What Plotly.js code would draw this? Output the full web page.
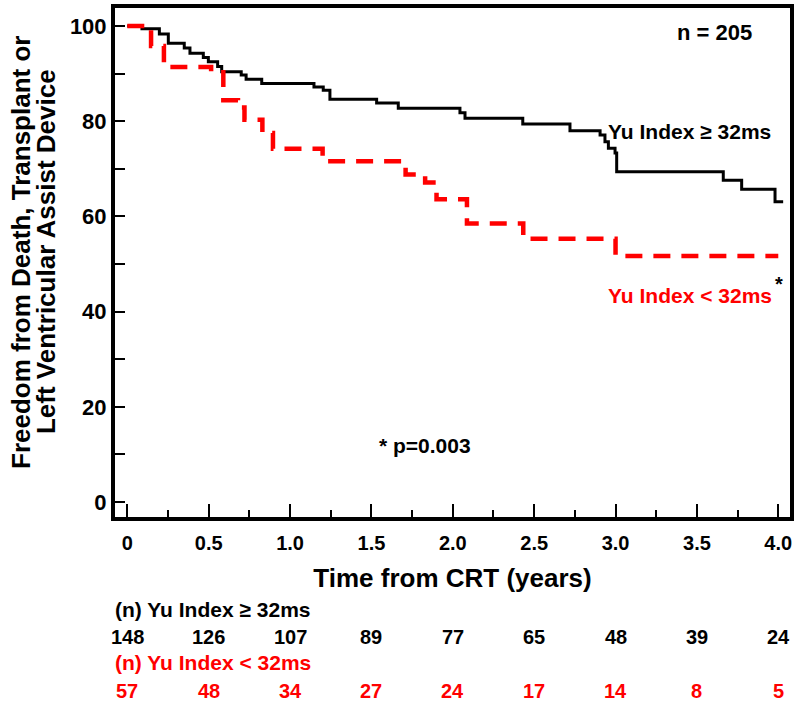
<!DOCTYPE html>
<html>
<head>
<meta charset="utf-8">
<script src="https://cdn.plot.ly/plotly-3.0.1.min.js"></script>
<style>
  html, body { margin: 0; padding: 0; background: #ffffff; }
  #chart { width: 800px; height: 705px; }
</style>
</head>
<body>
<div id="chart"></div>
<script>
// ---- Data ----
// Kaplan-Meier: Yu Index >= 32ms (black, solid)
const timeHigh = [0, 0.09, 0.197, 0.252, 0.35, 0.385, 0.467, 0.498, 0.555, 0.58, 0.70, 0.73, 0.826,
                  1.147, 1.204, 1.245, 1.532, 1.665, 2.044, 2.075, 2.43, 2.72, 2.905, 2.935, 2.956,
                  2.997, 3.007, 3.662, 3.775, 3.98, 4.03];
const survHigh = [100, 99.4, 98.3, 96.4, 95.4, 94.3, 93.4, 92.5, 91.5, 90.4, 89.7, 88.8, 87.9,
                  87.2, 86.5, 84.6, 83.8, 82.7, 81.8, 80.6, 79.4, 78.0, 77.1, 75.7, 74.3,
                  73.3, 69.4, 67.6, 65.7, 63.1, 63.1];
// Kaplan-Meier: Yu Index < 32ms (red, dashed)
const timeLow = [0, 0.146, 0.225, 0.515, 0.59, 0.68, 0.72, 0.83, 0.895, 1.2, 1.71, 1.83, 1.9,
                 2.087, 2.433, 3.0, 4.0];
const survLow = [100, 95.8, 91.4, 90.3, 84.4, 82.9, 80.3, 77.5, 74.2, 71.6, 68.8, 67.1, 63.6,
                 58.5, 55.3, 51.7, 51.7];

// Axis ticks
const xTickVals = [0, 0.5, 1, 1.5, 2, 2.5, 3, 3.5, 4];
const xTickText = ['0', '0.5', '1.0', '1.5', '2.0', '2.5', '3.0', '3.5', '4.0'];
const xMinorVals = [0.25, 0.75, 1.25, 1.75, 2.25, 2.75, 3.25, 3.75];
const yTickVals = [0, 20, 40, 60, 80, 100];
const yMinorVals = [10, 30, 50, 70, 90];

// Numbers at risk
const riskTimes = [0, 0.5, 1, 1.5, 2, 2.5, 3, 3.5, 4];
const riskHigh = [148, 126, 107, 89, 77, 65, 48, 39, 24];
const riskLow = [57, 48, 34, 27, 24, 17, 14, 8, 5];

// Labels
const labelHigh = 'Yu Index \u2265 32ms';
const labelLow = 'Yu Index < 32ms';
const riskLabelHigh = '(n) Yu Index \u2265 32ms';
const riskLabelLow = '(n) Yu Index < 32ms';
const yTitleLine1 = 'Freedom from Death, Transplant or';
const yTitleLine2 = 'Left Ventricular Assist Device';
const xTitle = 'Time from CRT (years)';
const nText = 'n = 205';
const pText = '* p=0.003';

// ---- Styling ----
const FONT = 'Liberation Sans, Arial, Helvetica, sans-serif';
const RED = '#ff0000';
const BLACK = '#000000';

const traces = [
  {
    x: timeHigh, y: survHigh, type: 'scatter', mode: 'lines',
    line: { shape: 'hv', color: BLACK, width: 3 },
    hoverinfo: 'skip', showlegend: false
  },
  {
    x: timeLow, y: survLow, type: 'scatter', mode: 'lines',
    line: { shape: 'hv', color: RED, width: 4.5, dash: '17px,11px' },
    hoverinfo: 'skip', showlegend: false
  }
];

const annotations = [];
function ann(o) {
  annotations.push(Object.assign({ showarrow: false, xref: 'x', yref: 'y' }, o));
}
ann({ text: '<b>' + nText + '</b>', x: 3.611, y: 98.7, font: { family: FONT, size: 22, color: BLACK } });
ann({ text: '<b>' + labelHigh + '</b>', x: 3.457, y: 77.8, font: { family: FONT, size: 21, color: BLACK } });
ann({ text: '<b>' + labelLow + '</b>', x: 3.455, y: 43.3, font: { family: FONT, size: 21, color: RED } });
ann({ text: '<b>*</b>', x: 4.005, y: 45.8, font: { family: FONT, size: 20, color: BLACK } });
ann({ text: '<b>' + pText + '</b>', x: 1.83, y: 11.8, font: { family: FONT, size: 21, color: BLACK } });

// y-axis title, two lines
annotations.push({ text: '<b>' + yTitleLine1 + '</b>', showarrow: false, xref: 'paper', yref: 'paper',
  x: -0.1393, y: 0.5206, textangle: -90, xanchor: 'center', yanchor: 'middle',
  font: { family: FONT, size: 26, color: BLACK } });
annotations.push({ text: '<b>' + yTitleLine2 + '</b>', showarrow: false, xref: 'paper', yref: 'paper',
  x: -0.1022, y: 0.5206, textangle: -90, xanchor: 'center', yanchor: 'middle',
  font: { family: FONT, size: 26, color: BLACK } });

// numbers at risk
annotations.push({ text: '<b>' + riskLabelHigh + '</b>', showarrow: false, xref: 'paper', yref: 'paper',
  x: -0.0034, y: -0.1817, xanchor: 'left', yanchor: 'middle',
  font: { family: FONT, size: 21, color: BLACK } });
annotations.push({ text: '<b>' + riskLabelLow + '</b>', showarrow: false, xref: 'paper', yref: 'paper',
  x: -0.0034, y: -0.2859, xanchor: 'left', yanchor: 'middle',
  font: { family: FONT, size: 21, color: RED } });
riskTimes.forEach((t, i) => {
  annotations.push({ text: '<b>' + riskHigh[i] + '</b>', showarrow: false, xref: 'x', yref: 'paper',
    x: t, y: -0.2352, xanchor: 'center', yanchor: 'middle',
    font: { family: FONT, size: 20, color: BLACK } });
  annotations.push({ text: '<b>' + riskLow[i] + '</b>', showarrow: false, xref: 'x', yref: 'paper',
    x: t, y: -0.3409, xanchor: 'center', yanchor: 'middle',
    font: { family: FONT, size: 20, color: RED } });
});

const layout = {
  width: 800, height: 705,
  margin: { l: 115, r: 10, t: 8, b: 188 },
  paper_bgcolor: '#ffffff', plot_bgcolor: '#ffffff',
  font: { family: FONT, color: BLACK },
  showlegend: false,
  xaxis: {
    range: [-0.0756, 4.072],
    tickmode: 'array', tickvals: xTickVals, ticktext: xTickText,
    ticks: 'inside', ticklen: 13, tickwidth: 2, tickcolor: BLACK,
    minor: { tickmode: 'array', tickvals: xMinorVals, ticks: 'inside', ticklen: 7, tickwidth: 2, tickcolor: BLACK, showgrid: false },
    showline: true, linewidth: 4, linecolor: BLACK, mirror: true,
    showgrid: false, zeroline: false,
    ticklabelstandoff: 5,
    tickfont: { family: FONT, size: 20, color: BLACK, weight: 'bold' },
    title: { text: '<b>' + xTitle + '</b>', font: { family: FONT, size: 26, color: BLACK }, standoff: 17 },
    fixedrange: true
  },
  yaxis: {
    range: [-3.15, 103.78],
    tickmode: 'array', tickvals: yTickVals, ticktext: yTickVals.map(String),
    ticks: 'inside', ticklen: 10, tickwidth: 2, tickcolor: BLACK,
    minor: { tickmode: 'array', tickvals: yMinorVals, ticks: 'inside', ticklen: 10, tickwidth: 2, tickcolor: BLACK, showgrid: false },
    showline: true, linewidth: 4, linecolor: BLACK, mirror: true,
    showgrid: false, zeroline: false,
    tickfont: { family: FONT, size: 22, color: BLACK, weight: 'bold' },
    fixedrange: true
  },
  annotations: annotations
};

Plotly.newPlot('chart', traces, layout, { displayModeBar: false, staticPlot: true });
</script>
</body>
</html>
